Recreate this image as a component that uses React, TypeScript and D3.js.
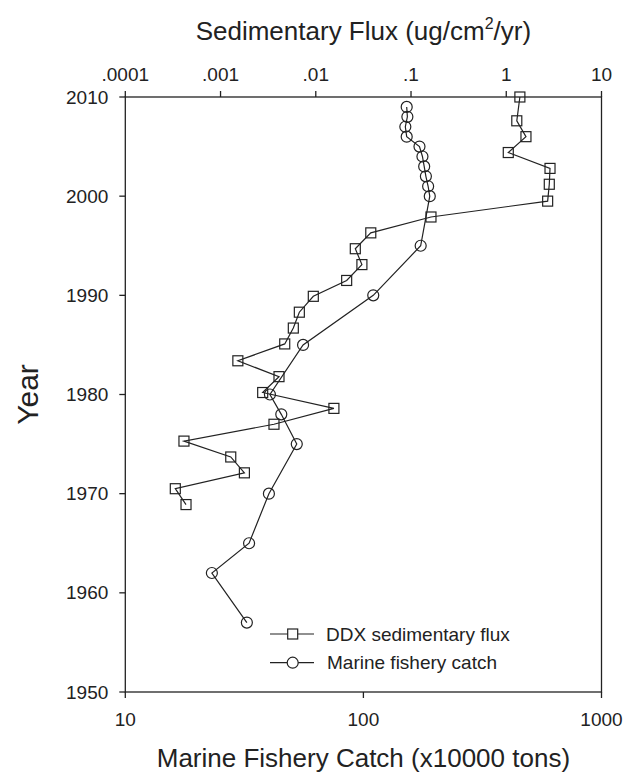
import React from "react";
import * as d3 from "d3";

// Marine fishery catch (x10000 tons), bottom axis
const catchYears = [1957, 1962, 1965, 1970, 1975, 1978, 1980, 1985, 1990, 1995, 2000, 2001, 2002, 2003, 2004, 2005, 2006, 2007, 2008, 2009];
const catchValues = [32.4, 23.1, 33.1, 40.1, 52.5, 45.2, 40.5, 55.8, 110, 174, 190, 187, 183, 180, 177, 172, 152, 150, 153, 152];

// DDX sedimentary flux (ug/cm2/yr), top axis
const ddxYears = [2010.0, 2007.6, 2006.0, 2004.4, 2002.8, 2001.2, 1999.5, 1997.9, 1996.3, 1994.7, 1993.1, 1991.5, 1989.9, 1988.3, 1986.7, 1985.1, 1983.4, 1981.8, 1980.2, 1978.6, 1977.0, 1975.3, 1973.7, 1972.1, 1970.5, 1968.9];
const ddxValues = [1.39, 1.29, 1.61, 1.05, 2.88, 2.83, 2.72, 0.162, 0.0378, 0.026, 0.0305, 0.0211, 0.00942, 0.00672, 0.00581, 0.00472, 0.00152, 0.00411, 0.00277, 0.0155, 0.00364, 0.000413, 0.00128, 0.00178, 0.000335, 0.000434];

const yearTicks = [1950, 1960, 1970, 1980, 1990, 2000, 2010];
const bottomTicks = [10, 100, 1000];
const bottomTickLabels = ["10", "100", "1000"];
const topTicks = [0.0001, 0.001, 0.01, 0.1, 1, 10];
const topTickLabels = [".0001", ".001", ".01", ".1", "1", "10"];

const legendLabels = ["DDX sedimentary flux", "Marine fishery catch"];

const W = 626;
const H = 772;
const L = 125.3;
const R = 601.5;
const T = 97;
const B = 692;
const FONT = "'Liberation Sans', Arial, Helvetica, sans-serif";
const INK = "#222";

export default function App() {
  const y = d3.scaleLinear().domain([1950, 2010]).range([B, T]);
  const xb = d3.scaleLog().domain([10, 1000]).range([L, R]);
  const xt = d3.scaleLog().domain([0.0001, 10]).range([L, R]);

  const catchPts = catchYears.map((yr, i) => [xb(catchValues[i]), y(yr)] as [number, number]);
  const ddxPts = ddxYears.map((yr, i) => [xt(ddxValues[i]), y(yr)] as [number, number]);
  const line = d3.line();

  const sq = 10;
  const cr = 5.5;
  const tick = 6;

  const legX1 = 270, legX2 = 314, legMid = 292.7;
  const legY = [634, 662.7];

  return (
    <svg width={W} height={H} style={{ position: "absolute", left: 0, top: 0, background: "#fff" }} fontFamily={FONT}>
      {/* frame */}
      <rect x={L} y={T} width={R - L} height={B - T} fill="none" stroke={INK} strokeWidth={1.3} />

      {/* left axis ticks */}
      {yearTicks.map((t) => (
        <g key={"yl" + t}>
          <line x1={L - tick} x2={L} y1={y(t)} y2={y(t)} stroke={INK} strokeWidth={1.3} />
          <text x={L - 17} y={y(t)} dy="0.35em" textAnchor="end" fontSize={19} fill={INK}>{t}</text>
        </g>
      ))}

      {/* bottom axis ticks */}
      {bottomTicks.map((t, i) => (
        <g key={"xb" + t}>
          <line x1={xb(t)} x2={xb(t)} y1={B} y2={B + tick} stroke={INK} strokeWidth={1.3} />
          <text x={xb(t)} y={726} textAnchor="middle" fontSize={19} fill={INK}>{bottomTickLabels[i]}</text>
        </g>
      ))}

      {/* top axis ticks */}
      {topTicks.map((t, i) => (
        <g key={"xt" + t}>
          <line x1={xt(t)} x2={xt(t)} y1={T - tick} y2={T} stroke={INK} strokeWidth={1.3} />
          <text x={xt(t)} y={81} textAnchor="middle" fontSize={19} fill={INK}>{topTickLabels[i]}</text>
        </g>
      ))}

      {/* DDX series */}
      <path d={line(ddxPts) || ""} fill="none" stroke={INK} strokeWidth={1.2} />
      {ddxPts.map(([px, py], i) => (
        <rect key={"d" + i} x={px - sq / 2} y={py - sq / 2} width={sq} height={sq} fill="none" stroke={INK} strokeWidth={1.2} />
      ))}

      {/* Catch series */}
      <path d={line(catchPts) || ""} fill="none" stroke={INK} strokeWidth={1.2} />
      {catchPts.map(([px, py], i) => (
        <circle key={"c" + i} cx={px} cy={py} r={cr} fill="none" stroke={INK} strokeWidth={1.2} />
      ))}

      {/* legend */}
      <line x1={legX1} x2={legX2} y1={legY[0]} y2={legY[0]} stroke={INK} strokeWidth={1.2} />
      <rect x={legMid - sq / 2} y={legY[0] - sq / 2} width={sq} height={sq} fill="#fff" stroke={INK} strokeWidth={1.2} />
      <text x={326} y={legY[0]} dy="0.35em" fontSize={19} fill={INK}>{legendLabels[0]}</text>
      <line x1={legX1} x2={legX2} y1={legY[1]} y2={legY[1]} stroke={INK} strokeWidth={1.2} />
      <circle cx={legMid} cy={legY[1]} r={cr} fill="#fff" stroke={INK} strokeWidth={1.2} />
      <text x={327} y={legY[1]} dy="0.35em" fontSize={19} fill={INK}>{legendLabels[1]}</text>

      {/* titles */}
      <text x={(L + R) / 2} y={40} textAnchor="middle" fontSize={26} fill={INK}>
        Sedimentary Flux (ug/cm<tspan fontSize={16} dy={-11}>2</tspan><tspan dy={11}>/yr)</tspan>
      </text>
      <text x={(L + R) / 2} y={767} textAnchor="middle" fontSize={26} fill={INK}>Marine Fishery Catch (x10000 tons)</text>
      <text transform={`translate(38, ${(T + B) / 2}) rotate(-90)`} textAnchor="middle" fontSize={30} fill={INK}>Year</text>
    </svg>
  );
}
